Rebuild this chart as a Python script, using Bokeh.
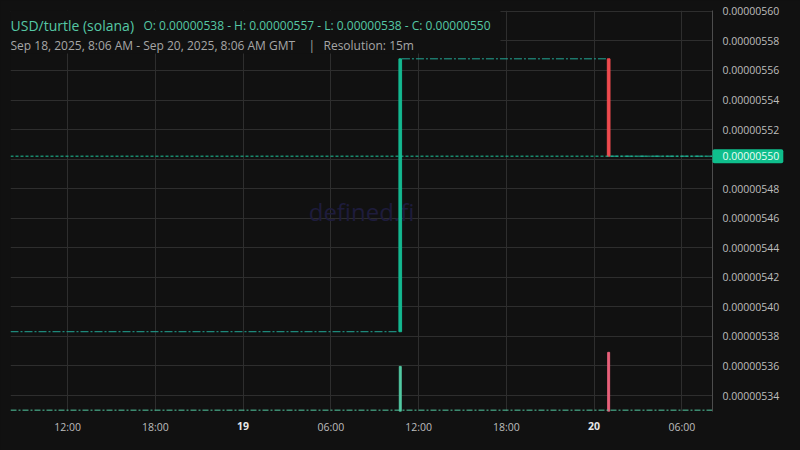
import pandas as pd
from bokeh.plotting import figure
from bokeh.models import (Range1d, FixedTicker, PrintfTickFormatter, CustomJSTickFormatter,
                          Label, BoxAnnotation, Span, ColumnDataSource, GlobalInlineStyleSheet)
from bokeh.core.properties import value
from bokeh.embed import file_html
from bokeh.resources import INLINE

# ---------------- data ----------------
pair_title = "USD/turtle (solana)"
ohlc_text = "O: 0.00000538 - H: 0.00000557 - L: 0.00000538 - C: 0.00000550"
range_text = "Sep 18, 2025, 8:06 AM - Sep 20, 2025, 8:06 AM GMT"
separator_text = "|"
resolution_text = "Resolution: 15m"
watermark_text = "defined.fi"

t_start = "2025-09-18 08:06"
t_end = "2025-09-20 08:06"

# candles with trades (15m resolution)
candle_time = ["2025-09-19 10:45", "2025-09-20 01:00"]
candle_open = [5.3832e-6, 5.5679e-6]
candle_close = [5.5679e-6, 5.5020e-6]
candle_volume = [1350, 1770]

# periods without trades (flat candles)
flat_start = ["2025-09-18 08:06", "2025-09-19 10:52", "2025-09-20 01:07"]
flat_end = ["2025-09-19 10:38", "2025-09-20 00:53", "2025-09-20 08:06"]
flat_price = [5.3832e-6, 5.5679e-6, 5.5020e-6]
idle_volume = 40

last_price = 5.5020e-6
last_price_label = "0.00000550"

price_ticks = [5.34e-6, 5.36e-6, 5.38e-6, 5.40e-6, 5.42e-6, 5.44e-6, 5.46e-6,
               5.48e-6, 5.50e-6, 5.52e-6, 5.54e-6, 5.56e-6, 5.58e-6, 5.60e-6]
price_min, price_max = 5.3292e-6, 5.6006e-6
volume_max = 12000

time_ticks = ["2025-09-18 12:00", "2025-09-18 18:00", "2025-09-19 00:00", "2025-09-19 06:00",
              "2025-09-19 12:00", "2025-09-19 18:00", "2025-09-20 00:00", "2025-09-20 06:00"]
time_tick_labels = ["12:00", "18:00", "19", "06:00", "12:00", "18:00", "20", "06:00"]
day_tick = [False, False, True, False, False, False, True, False]

# ---------------- styling ----------------
FONT = "Open Sans"
BG = "#111111"
GRID = "#2e2e2e"
UP = "#14b890"
DOWN = "#ef4b4f"
UP_VOL = "#52c9a2"
DOWN_VOL = "#e8607a"
FLAT = "#22a896"
TEAL_TEXT = "#55c8a5"
GREY_TEXT = "#a6a6a6"
AXIS_TEXT = "#bdbdbd"


def ms(t):
    return pd.Timestamp(t).value // 10**6


x0, x1 = ms(t_start), ms(t_end)

p = figure(width=800, height=450, x_axis_type="datetime", y_axis_location="right",
           output_backend="svg", toolbar_location=None, tools="",
           x_range=Range1d(x0, x1), y_range=Range1d(price_min, price_max),
           min_border_left=10, min_border_top=10, min_border_right=88, min_border_bottom=39)
p.extra_y_ranges = {"vol": Range1d(0, volume_max)}
p.background_fill_color = BG
p.border_fill_color = BG
p.outline_line_color = None
p.stylesheets = [GlobalInlineStyleSheet(css="html, body { background-color: #111111; }")]

# axes
tick_ms = [ms(t) for t in time_ticks]
xt = FixedTicker(ticks=tick_ms)
p.xaxis.ticker = xt
p.xaxis.formatter = CustomJSTickFormatter(
    args=dict(tick_values=tick_ms,
              tick_texts=["" if d else l for l, d in zip(time_tick_labels, day_tick)]),
    code="const i = tick_values.indexOf(tick); return i < 0 ? '' : tick_texts[i];")
p.xaxis.axis_line_color = None
p.xaxis.major_tick_line_color = None
p.xaxis.minor_tick_line_color = None
p.xaxis.major_tick_out = 0
p.xaxis.major_tick_in = 0
p.xaxis.major_label_standoff = 8
p.xaxis.major_label_text_font = FONT
p.xaxis.major_label_text_font_size = "10.5px"
p.xaxis.major_label_text_color = AXIS_TEXT

yt = FixedTicker(ticks=price_ticks)
p.yaxis.ticker = yt
p.yaxis.formatter = PrintfTickFormatter(format="%.8f")
p.yaxis.axis_line_color = "#4d4d4d"
p.yaxis.major_tick_line_color = None
p.yaxis.minor_tick_line_color = None
p.yaxis.major_tick_out = 0
p.yaxis.major_tick_in = 0
p.yaxis.major_label_standoff = 10
p.yaxis.major_label_text_font = FONT
p.yaxis.major_label_text_font_size = "10.5px"
p.yaxis.major_label_text_color = AXIS_TEXT

p.xgrid.ticker = xt
p.ygrid.ticker = yt
p.xgrid.grid_line_color = GRID
p.ygrid.grid_line_color = GRID

# watermark
p.add_layout(Label(x=(x0 + x1) / 2, y=(price_min + price_max) / 2, text=watermark_text,
                   text_align="center", text_baseline="middle", text_font=FONT,
                   text_font_size="24px", text_color="#1e1c3c", level="underlay"))

# volume
vol_src = ColumnDataSource(dict(
    x=[ms(t) for t in candle_time],
    top=candle_volume,
    color=[UP_VOL if c >= o else DOWN_VOL for o, c in zip(candle_open, candle_close)]))
p.vbar(x="x", top="top", bottom=0, width=8 * 60 * 1000, color="color",
       source=vol_src, y_range_name="vol")
p.segment(x0=[x0], y0=[idle_volume], x1=[x1], y1=[idle_volume], y_range_name="vol",
          line_color=UP_VOL, line_width=1, line_dash="6 2 2 2")

# flat candles
p.segment(x0=[ms(t) for t in flat_start], y0=flat_price,
          x1=[ms(t) for t in flat_end], y1=flat_price,
          line_color=FLAT, line_width=1, line_dash="8 2 2 2")

# last price line
p.add_layout(Span(location=last_price, dimension="width", line_color="#1fc49b",
                  line_width=1, line_dash="3 2"))

# candles
c_src = ColumnDataSource(dict(
    x=[ms(t) for t in candle_time],
    top=[max(o, c) for o, c in zip(candle_open, candle_close)],
    bottom=[min(o, c) for o, c in zip(candle_open, candle_close)],
    color=[UP if c >= o else DOWN for o, c in zip(candle_open, candle_close)]))
p.vbar(x="x", top="top", bottom="bottom", width=11 * 60 * 1000, color="color", source=c_src)

# header background
p.add_layout(BoxAnnotation(left=x0, right=ms("2025-09-19 17:36"), top=price_max, bottom=5.5715e-6,
                           fill_color=BG, fill_alpha=1, line_color=None))

# header texts
p.add_layout(Label(x=x0, y=price_max, x_offset=0, y_offset=-15, text=pair_title,
                   text_font=FONT, text_font_size="14px", text_color=TEAL_TEXT,
                   text_baseline="alphabetic"))
p.add_layout(Label(x=x0, y=price_max, x_offset=133, y_offset=-15, text=ohlc_text,
                   text_font=FONT, text_font_size="12px", text_color=TEAL_TEXT,
                   text_baseline="alphabetic"))
p.add_layout(Label(x=x0, y=price_max, x_offset=0, y_offset=-35, text=range_text,
                   text_font=FONT, text_font_size="12px", text_color=GREY_TEXT,
                   text_baseline="alphabetic"))
p.add_layout(Label(x=x0, y=price_max, x_offset=298, y_offset=-35, text=separator_text,
                   text_font=FONT, text_font_size="12px", text_color=GREY_TEXT,
                   text_baseline="alphabetic"))
p.add_layout(Label(x=x0, y=price_max, x_offset=313, y_offset=-35, text=resolution_text,
                   text_font=FONT, text_font_size="12px", text_color=GREY_TEXT,
                   text_baseline="alphabetic"))

# day tick labels (bold), drawn unclipped below the frame
day_src = ColumnDataSource(dict(
    x=[ms(t) for t, d in zip(time_ticks, day_tick) if d],
    y=[price_min for d in day_tick if d],
    text=[l for l, d in zip(time_tick_labels, day_tick) if d]))
p.text(x="x", y="y", text="text", source=day_src, y_offset=14, level="overlay",
       text_align="center", text_baseline="middle", text_font=value(FONT),
       text_font_size="10.5px", text_font_style="bold", text_color="#e6e6e6")

# last price tag on the price scale
tag_src = ColumnDataSource(dict(x=[x1], y=[last_price], text=[last_price_label]))
p.text(x="x", y="y", text="text", source=tag_src, level="overlay",
       text_align="left", text_baseline="middle", text_font=value(FONT),
       text_font_size="10.5px", text_color="#eafff7",
       background_fill_color="#0fbe8c", background_fill_alpha=1,
       padding=dict(left=10, right=4, top=3, bottom=3), border_radius=2)

open("out.html", "w").write(file_html(p, INLINE))
